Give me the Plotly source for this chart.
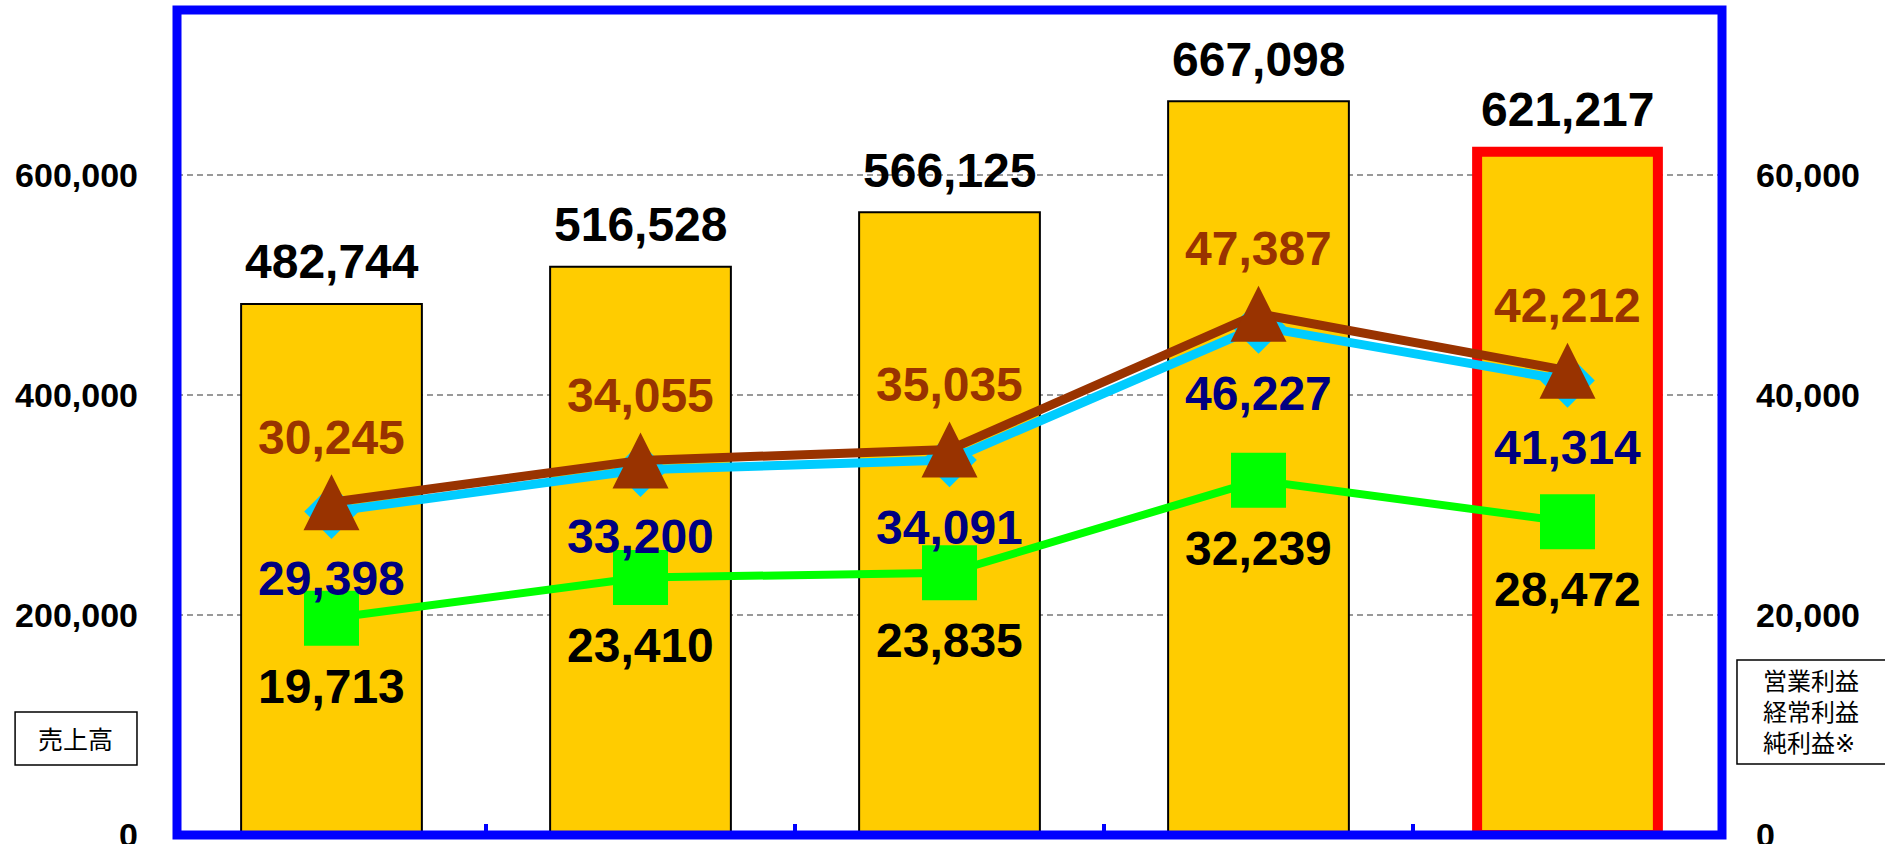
import plotly.graph_objects as go

# ---- data ----
categories = ["P1", "P2", "P3", "P4", "P5"]
sales = [482744, 516528, 566125, 667098, 621217]          # 売上高 (left axis)
operating_profit = [29398, 33200, 34091, 46227, 41314]    # 営業利益 (right axis)
ordinary_profit = [30245, 34055, 35035, 47387, 42212]     # 経常利益 (right axis)
net_profit = [19713, 23410, 23835, 32239, 28472]          # 純利益 (right axis)
left_ticks = [0, 200000, 400000, 600000]
right_ticks = [0, 20000, 40000, 60000]

# ---- styles ----
FONT = "Liberation Sans, Arial, sans-serif"
JP_FONT = "Noto Sans CJK JP, sans-serif"
GOLD = "#FFCC00"
BROWN = "#993300"
CYAN = "#00CCFF"
GREEN = "#00FF00"
NAVY = "#000080"
BLUE = "#0000FF"
bar_line_colors = ["#000000", "#000000", "#000000", "#000000", "#FF0000"]
bar_line_widths = [2, 2, 2, 2, 10]

fig = go.Figure()

fig.add_trace(go.Bar(
    x=categories, y=sales, yaxis="y",
    marker=dict(color=GOLD, line=dict(color=bar_line_colors, width=bar_line_widths)),
    width=0.585, hoverinfo="skip",
))

fig.add_trace(go.Scatter(
    x=categories, y=operating_profit, yaxis="y2", mode="lines+markers",
    line=dict(color=CYAN, width=9),
    marker=dict(symbol="diamond", size=42, color=CYAN),
    hoverinfo="skip",
))
fig.add_trace(go.Scatter(
    x=categories, y=ordinary_profit, yaxis="y2", mode="lines+markers",
    line=dict(color=BROWN, width=9),
    marker=dict(symbol="arrow-down", angle=180, standoff=28, size=56, color=BROWN),
    hoverinfo="skip",
))
fig.add_trace(go.Scatter(
    x=categories, y=net_profit, yaxis="y2", mode="lines+markers",
    line=dict(color=GREEN, width=8),
    marker=dict(symbol="square", size=55, color=GREEN),
    hoverinfo="skip",
))

annotations = []
def label(x, y, yref, text, color, shift):
    annotations.append(dict(
        x=x, y=y, xref="x", yref=yref, text="<b>" + text + "</b>",
        showarrow=False, yshift=shift, yanchor="middle",
        font=dict(family=FONT, size=48, color=color),
    ))

for c, v in zip(categories, sales):
    label(c, v, "y", f"{v:,}", "#000000", 42)
for c, v in zip(categories, ordinary_profit):
    label(c, v, "y2", f"{v:,}", BROWN, 65)
for c, v in zip(categories, operating_profit):
    label(c, v, "y2", f"{v:,}", NAVY, -67)
for c, v in zip(categories, net_profit):
    label(c, v, "y2", f"{v:,}", "#000000", -68)

# axis title boxes
annotations.append(dict(
    xref="paper", yref="paper", x=-0.0658, y=0.1175, text="売上高",
    showarrow=False, xanchor="center", yanchor="middle",
    font=dict(family=JP_FONT, size=25, color="#000000"),
))
annotations.append(dict(
    xref="paper", yref="paper", x=1.0578, y=0.1480,
    text="営業利益<br>経常利益<br>純利益※",
    showarrow=False, xanchor="center", yanchor="middle", align="left",
    font=dict(family="DejaVu Sans, Noto Sans CJK JP, sans-serif", size=24, color="#000000"),
))

shapes = [
    dict(type="rect", xref="paper", yref="paper", x0=-0.1048, x1=-0.0259,
         y0=0.0848, y1=0.1491, line=dict(color="#000000", width=1.5), layer="above"),
    dict(type="rect", xref="paper", yref="paper", x0=1.0097, x1=1.1060,
         y0=0.0860, y1=0.2121, line=dict(color="#000000", width=1.5), layer="above"),
    dict(type="rect", xref="paper", yref="paper", x0=0, x1=1, y0=0, y1=1,
         line=dict(color=BLUE, width=9), layer="above"),
]

fig.update_layout(
    width=1885, height=844,
    margin=dict(l=177, r=163, t=10, b=9),
    paper_bgcolor="white", plot_bgcolor="white",
    showlegend=False,
    annotations=annotations, shapes=shapes,
    xaxis=dict(
        type="category", tickson="boundaries", ticks="inside", ticklen=11,
        tickwidth=4, tickcolor=BLUE, showticklabels=False, showgrid=False,
        showline=False, zeroline=False, range=[-0.5, 4.5], automargin=False,
    ),
    yaxis=dict(
        range=[0, 750000], tickvals=left_ticks, tickformat=",d",
        showgrid=True, gridcolor="#999999", gridwidth=1.5, griddash="6px,4px",
        zeroline=False, showline=False, ticks="", ticklabelstandoff=38,
        ticklabeloverflow="allow", automargin=False,
        tickfont=dict(family=FONT, size=34, color="#000000", weight="bold"),
    ),
    yaxis2=dict(
        range=[0, 75000], tickvals=right_ticks, tickformat=",d",
        overlaying="y", side="right", showgrid=False, zeroline=False,
        showline=False, ticks="", ticklabelstandoff=33,
        ticklabeloverflow="allow", automargin=False,
        tickfont=dict(family=FONT, size=34, color="#000000", weight="bold"),
    ),
)

fig.write_html(
    "out.html",
    config={"displayModeBar": False},
    post_script="document.body.style.margin='0';document.body.style.overflow='hidden';",
)
